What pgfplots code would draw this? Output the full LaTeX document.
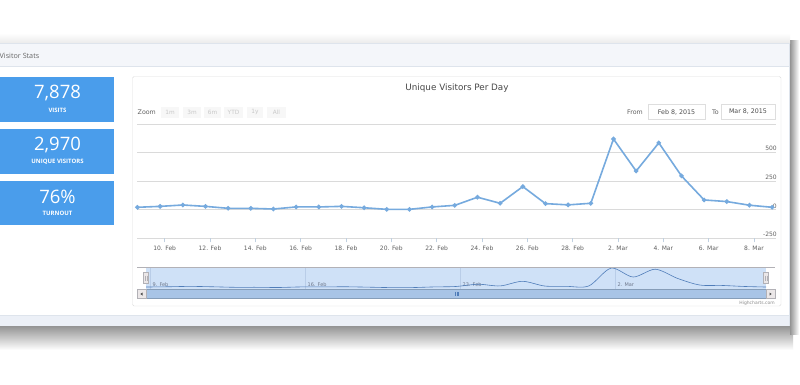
\documentclass[border=0pt]{standalone}
\usepackage{pgfplots}
\usepackage{pgfplotstable}
\pgfplotsset{compat=1.18}
\usepackage{fontspec}
\setmainfont{Open Sans}
\newfontfamily\chartfont{DejaVu Sans}
\definecolor{linec}{RGB}{118,170,222}
\definecolor{gridc}{RGB}{218,218,218}
\definecolor{tickc}{RGB}{192,208,224}
\definecolor{labc}{RGB}{96,96,96}
\definecolor{boxc}{RGB}{74,157,235}
\definecolor{headc}{RGB}{244,246,250}
\definecolor{footc}{RGB}{236,240,247}
\definecolor{panelb}{RGB}{222,228,236}
\definecolor{contb}{RGB}{222,222,222}
\definecolor{btnc}{RGB}{247,247,247}
\definecolor{btntext}{RGB}{200,200,200}
\definecolor{navfill}{RGB}{207,225,247}
\definecolor{navgrid}{RGB}{185,205,232}
\definecolor{navline}{RGB}{80,125,185}
\definecolor{navtext}{RGB}{110,120,140}
\definecolor{thumbc}{RGB}{168,196,230}
\definecolor{handlec}{RGB}{235,231,232}
\definecolor{outlinec}{RGB}{178,177,182}

\pgfplotstableread{
x y
8.8 22
9.8 30
10.8 42
11.8 30
12.8 13
13.8 13
14.8 7
15.8 25
16.8 25
17.8 30
18.8 18
19.8 4
20.8 4
21.8 25
22.8 39
23.8 110
24.8 57
25.8 203
26.8 54
27.8 43
28.8 57
29.8 619
30.8 339
31.8 585
32.8 296
33.8 86
34.8 72
35.8 40
36.8 22
}\visits

\begin{document}
\begin{tikzpicture}[x=1pt,y=1pt]
\path[use as bounding box] (0,0) rectangle (800,384);
\fill[white] (0,0) rectangle (800,384);
\begin{scope}[shift={(0,384)},yscale=-1]
  % shadows
  \shade[top color=black!42, bottom color=white] (0,326) rectangle (793,350);
  \shade[left color=black!42, right color=white] (790,40) rectangle (799,334);
  \shade[top color=white, bottom color=black!8] (0,33) rectangle (790,43);
  % panel
  \fill[headc] (0,43) rectangle (790,67);
  \fill[white] (0,67) rectangle (790,315);
  \fill[footc] (0,315) rectangle (790,326);
  \draw[panelb] (0,43.5) -- (790,43.5);
  \draw[panelb] (0,66.5) -- (790,66.5);
  \draw[panelb] (0,315) -- (790,315);
  \draw[panelb] (789.5,43) -- (789.5,326);
  \node[anchor=west, text=black!60, font=\fontsize{7.2}{8}\selectfont, inner sep=0pt] at (-0.5,56) {Visitor Stats};
  % stat boxes
  \fill[boxc] (0,77) rectangle (114,122);
  \fill[boxc] (0,129) rectangle (114,174);
  \fill[boxc] (0,181) rectangle (114,225);
  \node[text=white, font=\fontsize{18.5}{20}\selectfont] at (57.5,93) {7,878};
  \node[text=white, font=\bfseries\fontsize{6}{7}\selectfont] at (57.5,110.5) {VISITS};
  \node[text=white, font=\fontsize{18.5}{20}\selectfont] at (57.5,145) {2,970};
  \node[text=white, font=\bfseries\fontsize{6}{7}\selectfont] at (57.5,161.5) {UNIQUE VISITORS};
  \node[text=white, font=\fontsize{18.5}{20}\selectfont] at (57.5,197) {76\%};
  \node[text=white, font=\bfseries\fontsize{6}{7}\selectfont] at (57.5,213.5) {TURNOUT};
  % chart container
  \draw[contb, fill=white, rounded corners=1.5pt] (132.5,76.5) rectangle (781,306);
  \node[text=black!72, font=\chartfont\fontsize{8.8}{10}\selectfont] at (457,88) {Unique Visitors Per Day};
  \node[anchor=west, text=labc, font=\chartfont\fontsize{6.3}{7}\selectfont, inner sep=0pt] at (137.5,112) {Zoom};
  \foreach \a/\b/\t in {161/179/1m,183/201/3m,204/221/6m,224/243/YTD,247/263/1y,267/286/All}{
    \fill[btnc] (\a,106.5) rectangle (\b,117.5);
    \node[text=btntext, font=\chartfont\fontsize{5.8}{7}\selectfont, inner sep=0pt] at ({(\a+\b)/2},112) {\t};
  }
  \node[anchor=east, text=labc, font=\chartfont\fontsize{6.3}{7}\selectfont, inner sep=0pt] at (643,112) {From};
  \draw[contb, fill=white] (648,104) rectangle (705,119.5);
  \node[text=black!70, font=\chartfont\fontsize{6.3}{7}\selectfont, inner sep=0pt] at (676.5,112) {Feb 8, 2015};
  \node[text=labc, font=\chartfont\fontsize{6.3}{7}\selectfont, inner sep=0pt] at (715.5,112) {To};
  \draw[contb, fill=white] (721,104) rectangle (775,119.5);
  \node[text=black!70, font=\chartfont\fontsize{6.3}{7}\selectfont, inner sep=0pt] at (748,112) {Mar 8, 2015};
\end{scope}

% main chart
\begin{axis}[
  at={(137pt,145.6pt)}, anchor=south west,
  scale only axis, width=639pt, height=114.4pt,
  xmin=8.78, xmax=36.97, ymin=-250, ymax=750,
  clip=false,
  axis line style={draw=none},
  ymajorgrids, major grid style={gridc, line width=0.7pt},
  xtick={10,12,...,36},
  xticklabels={10. Feb,12. Feb,14. Feb,16. Feb,18. Feb,20. Feb,22. Feb,24. Feb,26. Feb,28. Feb,2. Mar,4. Mar,6. Mar,8. Mar},
  xtick pos=bottom, tick align=outside, major tick length=4pt,
  xtick style={draw=tickc, line width=0.7pt},
  ytick={-250,0,250,500,750},
  yticklabels={-250,0,250,500,{}},
  ytick pos=right, yticklabel pos=right,
  ytick style={draw=none},
  yticklabel style={anchor=south east, inner sep=1pt, xshift=-2pt, yshift=0.5pt, font=\chartfont\fontsize{6}{7}\selectfont, text=labc},
  xticklabel style={font=\chartfont\fontsize{6}{7}\selectfont, text=labc, yshift=-0.5pt},
]
\addplot[linec, line width=1.6pt, mark=*, mark size=1.4pt, mark options={fill=linec, draw=linec}] table {\visits};
\end{axis}

% navigator
\begin{axis}[
  at={(146pt,95.5pt)}, anchor=south west,
  scale only axis, width=620pt, height=21pt,
  xmin=8.8, xmax=36.8, ymin=-25, ymax=640,
  axis background/.style={fill=navfill},
  axis line style={draw=none},
  ytick=\empty,
  xtick={9,16,23,30},
  xticklabels={9. Feb,16. Feb,23. Feb,2. Mar},
  xmajorgrids, major grid style={navgrid, line width=0.6pt},
  major tick length=0pt,
  xticklabel style={anchor=south west, inner sep=0.5pt, xshift=1.5pt, yshift=1pt, font=\chartfont\fontsize{5}{6}\selectfont, text=navtext},
]
\addplot[navline, line width=0.6pt, smooth, tension=0.5] table {\visits};
\end{axis}

\begin{scope}[shift={(0,384)},yscale=-1]
  \draw[outlinec, line width=0.6pt] (137,267.5) -- (775,267.5);
  % scrollbar
  \fill[black!6] (137,289.5) rectangle (775,298.5);
  \draw[thumbc!80!black, fill=thumbc] (146,289.5) rectangle (766,298.5);
  \draw[navline, line width=0.4pt] (455.5,291.8) -- (455.5,296.2) (457,291.8) -- (457,296.2) (458.5,291.8) -- (458.5,296.2);
  \draw[outlinec, fill=handlec] (137,289.5) rectangle (146,298.5);
  \draw[outlinec, fill=handlec] (766,289.5) rectangle (775,298.5);
  \fill[black!70] (140.3,294) -- (142.5,292.5) -- (142.5,295.5) -- cycle;
  \fill[black!70] (771.7,294) -- (769.5,292.5) -- (769.5,295.5) -- cycle;
  % handles
  \draw[outlinec, fill=handlec] (143.5,272.5) rectangle (148.5,283.5);
  \draw[outlinec, fill=handlec] (763.5,272.5) rectangle (768.5,283.5);
  \draw[outlinec, line width=0.3pt] (145.2,275.5) -- (145.2,280.5) (146.8,275.5) -- (146.8,280.5);
  \draw[outlinec, line width=0.3pt] (765.2,275.5) -- (765.2,280.5) (766.8,275.5) -- (766.8,280.5);
  % credit
  \node[anchor=east, text=black!45, font=\chartfont\fontsize{4.5}{5}\selectfont, inner sep=0pt] at (775,303) {Highcharts.com};
\end{scope}
\end{tikzpicture}
\end{document}
